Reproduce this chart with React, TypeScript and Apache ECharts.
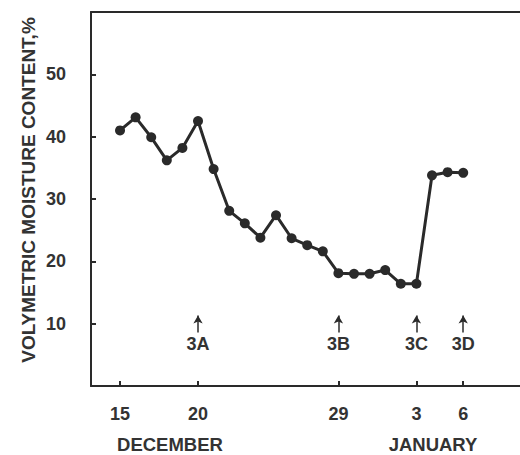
import React, { useEffect, useRef } from "react";
import * as echarts from "echarts";

// Day index: December days as-is, January days as 31 + day
const days = [15, 16, 17, 18, 19, 20, 21, 22, 23, 24, 25, 26, 27, 28, 29, 30, 31, 32, 33, 34, 35, 36, 37];
const moisture = [41.0, 43.1, 39.9, 36.2, 38.2, 42.5, 34.8, 28.1, 26.1, 23.8, 27.4, 23.7, 22.6, 21.6, 18.1, 18.0, 18.0, 18.6, 16.4, 16.4, 33.8, 34.3, 34.2];

const tickDays = [15, 20, 29, 34, 37];
const tickLabels = ["15", "20", "29", "3", "6"];
const yTicks = [10, 20, 30, 40, 50];

const arrowDays = [20, 29, 34, 37];
const arrowLabels = ["3A", "3B", "3C", "3D"];
const arrowFrom = 8.6;
const arrowTo = 11.3;

const INK = "#2a2a2a";
const TEXT = "#333333";
const FONT = "'Liberation Sans', Arial, Helvetica, sans-serif";

export default function App() {
  const ref = useRef<HTMLDivElement>(null);
  useEffect(() => {
    document.body.style.margin = "0";
    const chart = echarts.init(ref.current!, null, { renderer: "svg" });
    const option = {
      animation: false,
      backgroundColor: "#ffffff",
      grid: { left: 91, top: 12, right: 0, bottom: 69 },
      xAxis: [
        {
          type: "value",
          min: 13.14,
          max: 40.64,
          axisLine: { show: true, lineStyle: { color: INK, width: 2 } },
          splitLine: { show: false },
          axisTick: {
            show: true,
            inside: true,
            length: 5,
            customValues: tickDays,
            lineStyle: { color: INK, width: 2 },
          },
          axisLabel: {
            customValues: tickDays,
            margin: 19,
            color: TEXT,
            fontFamily: FONT,
            fontWeight: "bold",
            fontSize: 18,
            formatter: (v: number) => tickLabels[tickDays.indexOf(v)] ?? "",
          },
        },
        {
          type: "value",
          position: "top",
          min: 13.14,
          max: 40.64,
          axisLine: { show: true, lineStyle: { color: INK, width: 2 } },
          axisTick: { show: false },
          axisLabel: { show: false },
          splitLine: { show: false },
        },
      ],
      yAxis: {
        type: "value",
        min: 0,
        max: 60,
        interval: 10,
        axisLine: { show: true, lineStyle: { color: INK, width: 2 } },
        splitLine: { show: false },
        axisTick: {
          show: true,
          inside: true,
          length: 5,
          customValues: yTicks,
          lineStyle: { color: INK, width: 2 },
        },
        axisLabel: {
          customValues: yTicks,
          margin: 25,
          color: TEXT,
          fontFamily: FONT,
          fontWeight: "bold",
          fontSize: 18,
        },
      },
      graphic: [
        {
          type: "text",
          x: 28,
          y: 190,
          rotation: Math.PI / 2,
          style: {
            text: "VOLYMETRIC MOISTURE CONTENT,%",
            fill: TEXT,
            font: `bold 19px ${FONT}`,
            align: "center",
            verticalAlign: "middle",
          },
        },
        {
          type: "text",
          x: 170,
          y: 444,
          style: {
            text: "DECEMBER",
            fill: TEXT,
            font: `bold 18.5px ${FONT}`,
            align: "center",
            verticalAlign: "middle",
          },
        },
        {
          type: "text",
          x: 433,
          y: 444,
          style: {
            text: "JANUARY",
            fill: TEXT,
            font: `bold 18.5px ${FONT}`,
            align: "center",
            verticalAlign: "middle",
          },
        },
      ],
      series: [
        {
          type: "line",
          data: days.map((d, i) => [d, moisture[i]]),
          symbol: "circle",
          symbolSize: 10,
          lineStyle: { color: INK, width: 3 },
          itemStyle: { color: INK },
          silent: true,
          markLine: {
            silent: true,
            symbol: ["none", "arrow"],
            symbolSize: [7, 8],
            lineStyle: { color: INK, width: 1.5, type: "solid" },
            label: {
              show: true,
              position: "start",
              distance: 3,
              color: TEXT,
              fontFamily: FONT,
              fontWeight: "bold",
              fontSize: 18,
            },
            data: arrowDays.map((d, i) => [
              { coord: [d, arrowFrom], name: arrowLabels[i], label: { formatter: arrowLabels[i] } },
              { coord: [d, arrowTo] },
            ]),
          },
        },
      ],
    };
    chart.setOption(option);
    return () => chart.dispose();
  }, []);
  return <div ref={ref} style={{ width: 520, height: 455 }} />;
}
